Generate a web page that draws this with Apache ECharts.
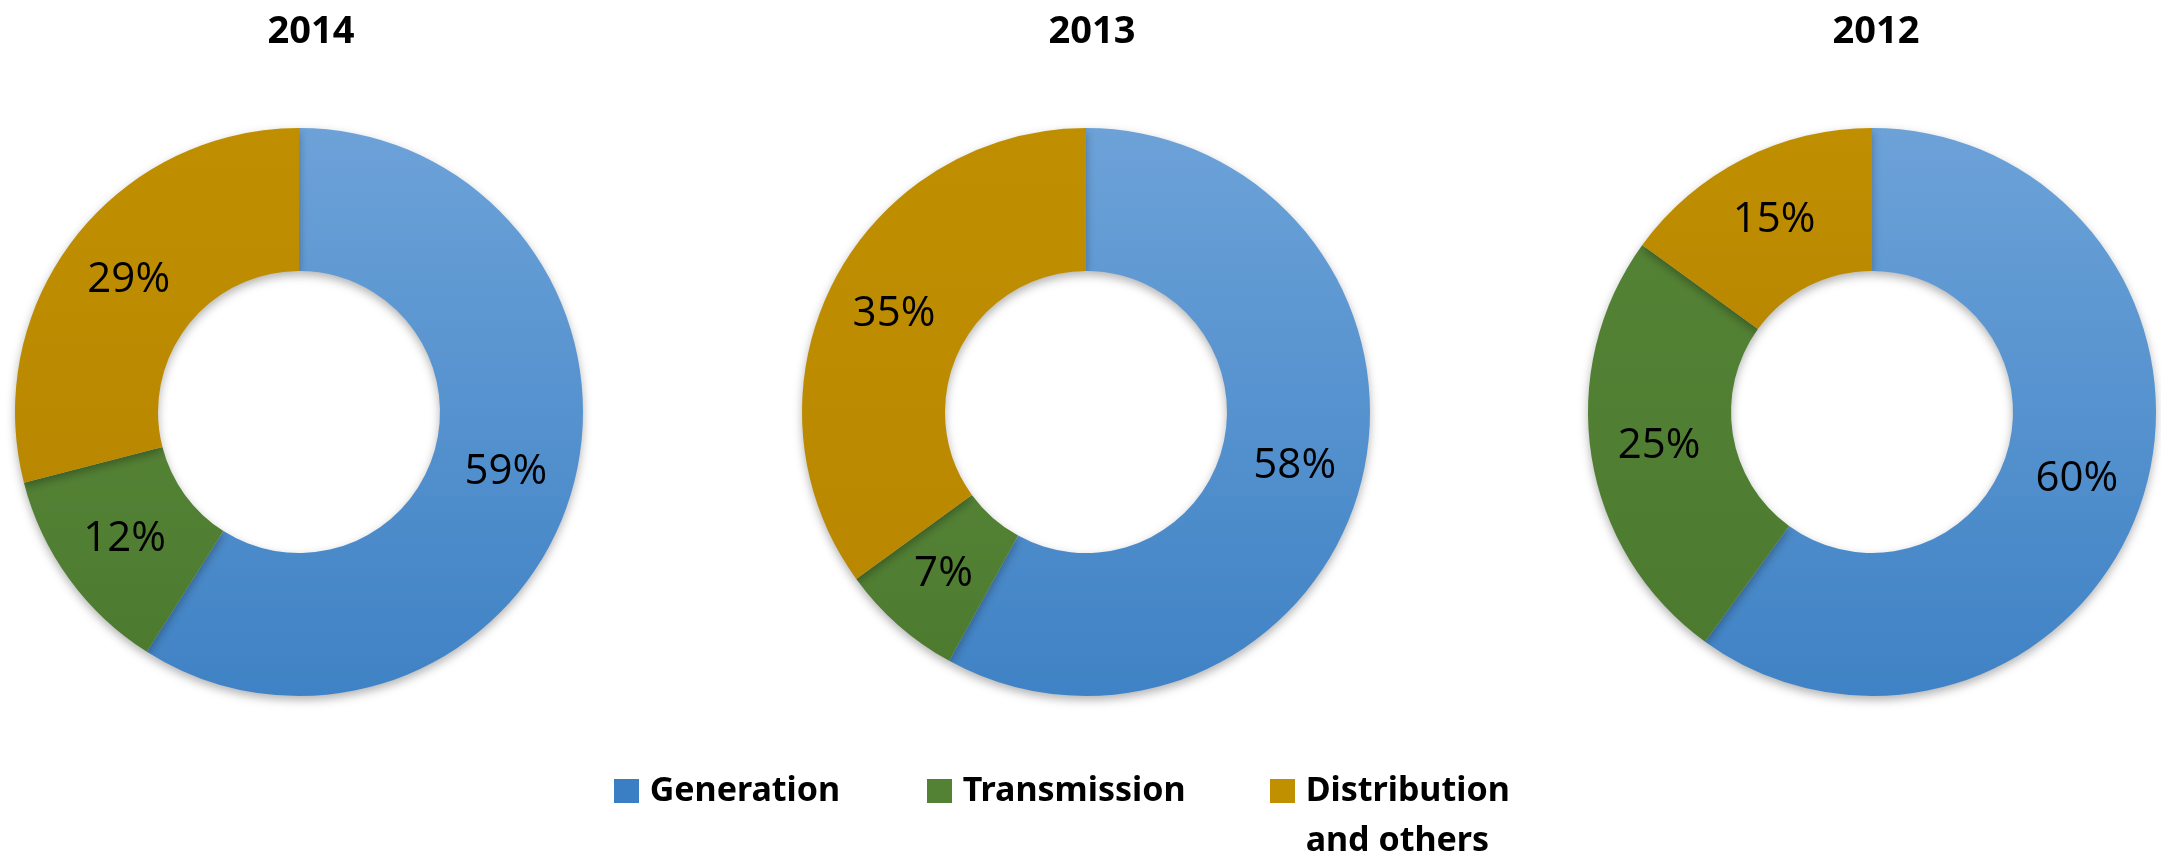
<!DOCTYPE html>
<html>
<head>
<meta charset="utf-8">
<script src="https://cdn.jsdelivr.net/npm/echarts@6/dist/echarts.min.js"></script>
<style>
  html, body { margin: 0; padding: 0; background: #fff; }
  #chart { width: 2161px; height: 854px; }
</style>
</head>
<body>
<div id="chart"></div>
<script>
// shares per segment, order: Generation, Transmission, Distribution and others
const segments = ['Generation', 'Transmission', 'Distribution and others']
const years = ['2014', '2013', '2012']
const share2014 = [59, 12, 29]
const share2013 = [58, 7, 35]
const share2012 = [60, 25, 15]

const yearShares = [share2014, share2013, share2012]
const centersX = [299, 1086, 1872]
const titleX = [306, 1087, 1871]

const blue = new echarts.graphic.LinearGradient(0, 0, 0, 1, [
  { offset: 0, color: '#6ca2d8' },
  { offset: 1, color: '#3f82c5' },
])
const green = new echarts.graphic.LinearGradient(0, 0, 0, 1, [
  { offset: 0, color: '#548235' },
  { offset: 1, color: '#4c7a2f' },
])
const gold = new echarts.graphic.LinearGradient(0, 0, 0, 1, [
  { offset: 0, color: '#c08f00' },
  { offset: 1, color: '#b98800' },
])
const colors = [blue, green, gold]
const legendColors = ['#3a7fc4', '#548235', '#c09000']

const chart = echarts.init(document.getElementById('chart'))

const series = years.map((y, i) => ({
  name: y,
  type: 'pie',
  center: [centersX[i], 412],
  radius: [141, 284],
  startAngle: 90,
  clockwise: true,
  avoidLabelOverlap: false,
  emphasis: { disabled: true },
  label: {
    show: true,
    position: 'inside',
    formatter: '{c}%',
    color: '#000',
    fontFamily: 'Open Sans',
    fontSize: 42,
  },
  labelLine: { show: false },
  itemStyle: {
    shadowBlur: 10,
    shadowColor: 'rgba(0, 0, 0, 0.3)',
    shadowOffsetY: 4,
  },
  data: segments.map((s, k) => ({
    name: s,
    value: yearShares[i][k],
    itemStyle: { color: colors[k] },
  })),
}))

const legendText = {
  fontFamily: 'Noto Sans',
  fontWeight: 'bold',
  fontSize: 34,
  color: '#000',
  lineHeight: 50,
}

const option = {
  backgroundColor: '#fff',
  animation: false,
  title: years.map((y, i) => ({
    text: y,
    left: titleX[i],
    top: 8,
    textAlign: 'center',
    textStyle: {
      fontFamily: 'Noto Sans',
      fontWeight: 'bold',
      fontSize: 38,
      color: '#000',
    },
  })),
  legend: [
    {
      left: 609,
      top: 761,
      itemWidth: 25,
      itemHeight: 24,
      icon: 'rect',
      selectedMode: false,
      data: [{ name: segments[0], itemStyle: { color: legendColors[0] } }],
      formatter: (n) => '\u2009' + n,
      textStyle: legendText,
    },
    {
      left: 922,
      top: 761,
      itemWidth: 25,
      itemHeight: 24,
      icon: 'rect',
      selectedMode: false,
      data: [{ name: segments[1], itemStyle: { color: legendColors[1] } }],
      formatter: (n) => '\u2009' + n,
      textStyle: legendText,
    },
    {
      left: 1265,
      top: 711,
      itemWidth: 25,
      itemHeight: 24,
      icon: 'rect',
      selectedMode: false,
      data: [{ name: segments[2], itemStyle: { color: legendColors[2] } }],
      // empty first line keeps "Distribution" level with the icon
      formatter: () => ' \n\u2009Distribution\n\u2009and others',
      textStyle: legendText,
    },
  ],
  series: series,
}

chart.setOption(option)
</script>
</body>
</html>
